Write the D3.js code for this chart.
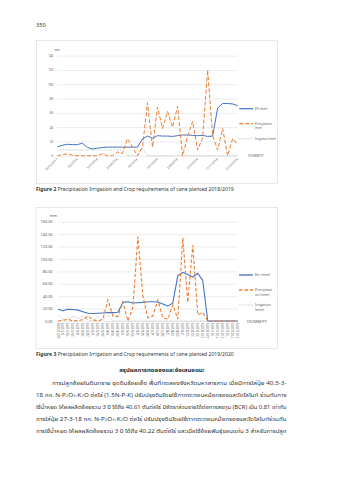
<!DOCTYPE html>
<html><head><meta charset="utf-8">
<script src="https://cdn.jsdelivr.net/npm/d3@7"></script>
<style>
html,body{margin:0;padding:0;background:#fff;}
svg{display:block;}
text{font-family:"Noto Sans","Liberation Sans","DejaVu Sans",sans-serif;}
.thai{font-family:"Noto Sans Thai","Loma","Garuda","Norasi","DejaVu Sans","Noto Sans",sans-serif;}
</style></head><body>
<svg id="page" width="339" height="480"></svg>
<script>
// ---------- Figure 2 (2018/2019) ----------
const fig2TickLabels = ["26/12/2017","4/2/2018","16/3/2018","25/4/2018","4/6/2018","14/7/2018","23/8/2018","2/10/2018","11/11/2018","21/12/2018"];
const fig2Etc = [12.5,14.5,16,15.5,15.5,17.5,11.5,9.5,10.5,11.5,12,12,12,12,12,12,12,23.5,27.5,24.5,28,27.5,27.5,27,28,29,29,28.5,28,28.5,27,27.5,67,73,73,72.5,70];
const fig2Prec = [0,1.5,2.5,1,0,0,0,0,0,2.5,0,0,5,3,24,12,0,12,74,12,68,38,62,40,69,0,27,48,8,25,120,28,8,38,0,24,15];
const fig2Irr = [8,8,8,8,8,8,8,8,8,8,8,8,8,8,0,0,0,11,0,0,0,0,0,0,0,0,0,0,0,0,0,0,0,0,0,0,0];
const fig2YTicks = [0,20,40,60,80,100,120,140];
const fig2Legend = [["ETc (mm)"],["Precipitation","(mm)"],["Irrigation (mm)"]];

// ---------- Figure 3 (2019/2020) ----------
const fig3Dates = ["26/12/2018","5/1/2019","15/1/2019","25/1/2019","4/2/2019","14/2/2019","24/2/2019","6/3/2019","16/3/2019","26/3/2019","5/4/2019","15/4/2019","25/4/2019","5/5/2019","15/5/2019","25/5/2019","4/6/2019","14/6/2019","24/6/2019","4/7/2019","14/7/2019","24/7/2019","3/8/2019","13/8/2019","23/8/2019","2/9/2019","12/9/2019","22/9/2019","2/10/2019","12/10/2019","22/10/2019","1/11/2019","11/11/2019","21/11/2019","1/12/2019","11/12/2019","21/12/2019"];
const fig3Etc = [19,16.5,19,18.5,17.5,15,12.5,12,12.5,13,13.5,13.5,14,30,31,29,29.5,30,31,31,30.5,27.5,24,29,73,78,75,71,77,65,0,0,0,0,0,0,0];
const fig3Prec = [0,1,3,0,1,2,8,2,0,3,34,8,7,31,0,22,136,40,5,8,34,5,3,26,3,134,30,122,10,14,0,0,0,0,0,0,0];
const fig3Irr = [10,2,3,8,4,8,2,0,7,1,10,0,0,0,0,0,0,0,0,0,0,0,0,0,0,0,0,0,0,0,0,0,0,0,0,0,0];
const fig3YTicks = [0,20,40,60,80,100,120,140,160];
const fig3Legend = [["Etc (mm)"],["Precipitati","on (mm)"],["Irrigation","(mm)"]];

// ---------- Page text ----------
const pageNumber = "350";
const caption2 = ["Figure 2", " Precipitation Irrigation and Crop requirements of cane planted 2018/2019"];
const caption3 = ["Figure 3", " Precipitation Irrigation and Crop requirements of cane planted 2019/2020"];
const heading = "สรุปผลการทดลองและข้อเสนอแนะ";
const bodyLines = [
  "การปลูกอ้อยในดินทราย ชุดดินร้อยเอ็ด พื้นที่ทดลองจังหวัดมหาสารคาม  เมื่อมีการใส่ปุ๋ย 40.5-3-",
  "18  กก. N-P₂O₅-K₂O ต่อไร่ (1.5N-P-K) ปรับปรุงดินโดยใช้กากตะกอนหม้อกรองและโดโลไมท์  ร่วมกับการ",
  "ใช้น้ำหยด ให้ผลผลิตอ้อยรวม 3 ปี ได้ถึง 40.61 ตันต่อไร่ มีอัตราส่วนรายได้ต่อการลงทุน (BCR) เป็น 0.81 เท่ากับ",
  "การใส่ปุ๋ย 27-3-18  กก. N-P₂O₅-K₂O ต่อไร่ ปรับปรุงดินโดยใช้กากตะกอนหม้อกรองและโดโลไมท์ร่วมกับ",
  "การใช้น้ำหยด ให้ผลผลิตอ้อยรวม 3 ปี ได้ถึง 40.22 ตันต่อไร่ และเมื่อใช้อ้อยพันธุ์ขอนแก่น 3  สำหรับการปลูก"
];

const COL = {etc:"#4472C4", prec:"#ED7D31", irr:"#A5A5A5", grid:"#D9D9D9", txt:"#595959"};
const svg = d3.select("#page");

svg.append("text").attr("x",36).attr("y",27).attr("font-size",5.6).attr("fill","#333").text(pageNumber);

function drawChart(c){
  const g = svg.append("g");
  g.append("rect").attr("x",c.frame[0]).attr("y",c.frame[1]).attr("width",c.frame[2]).attr("height",c.frame[3])
    .attr("fill","#fff").attr("stroke","#D9D9D9").attr("stroke-width",0.6);
  const n = c.etc.length;
  const x = d3.scaleLinear().domain([0,n-1]).range([c.x0,c.x1]);
  const y = d3.scaleLinear().domain([0,c.yMax]).range([c.yB,c.yT]);
  const ya = g.append("g").attr("transform",`translate(${c.x0},0)`)
    .call(d3.axisLeft(y).tickValues(c.yTicks).tickSize(-(c.x1-c.x0)).tickPadding(c.yPad).tickFormat(c.fmt));
  ya.select(".domain").remove();
  ya.selectAll("line").attr("stroke",COL.grid).attr("stroke-width",0.5);
  ya.selectAll("text").attr("fill",COL.txt).attr("font-size",c.yFs).attr("font-family",null);
  g.append("text").attr("x",c.mm[0]).attr("y",c.mm[1]).attr("font-size",c.mmFs).attr("fill",COL.txt).text("mm");

  const xa = g.append("g").attr("transform",`translate(0,${c.yB})`)
    .call(d3.axisBottom(x).tickValues(c.xTickIdx).tickSize(0).tickFormat((d,i)=>c.xTickLabels[i]));
  xa.select(".domain").remove();
  xa.selectAll("text").attr("fill",COL.txt).attr("font-size",c.xFs).attr("font-family",null)
    .attr("text-anchor","end").attr("dy",null).attr("y",null)
    .attr("transform",c.xRot);

  const line = d3.line().x((d,i)=>x(i)).y(d=>y(d));
  g.append("path").datum(c.irr).attr("d",line).attr("fill","none").attr("stroke",COL.irr)
    .attr("stroke-width",c.irrW).attr("stroke-dasharray",c.irrDash);
  g.append("path").datum(c.etc).attr("d",line).attr("fill","none").attr("stroke",COL.etc)
    .attr("stroke-width",c.etcW).attr("stroke-linejoin","round");
  g.append("path").datum(c.prec).attr("d",line).attr("fill","none").attr("stroke",COL.prec)
    .attr("stroke-width",c.precW).attr("stroke-dasharray",c.precDash);

  const styles = [[COL.etc,c.etcW+0.2,null],[COL.prec,c.precW+0.2,c.precDash],[COL.irr,c.irrW,c.irrDash]];
  c.legend.forEach((lab,i)=>{
    const ly = c.legY[i];
    g.append("line").attr("x1",c.legX[0]).attr("x2",c.legX[1]).attr("y1",ly).attr("y2",ly)
      .attr("stroke",styles[i][0]).attr("stroke-width",styles[i][1]).attr("stroke-dasharray",styles[i][2]);
    lab.forEach((t,j)=>{
      g.append("text").attr("x",c.legX[2]).attr("y",ly+c.legFs*0.35+j*c.legFs*1.45)
        .attr("font-size",c.legFs).attr("fill",COL.txt).text(t);
    });
  });
  g.append("text").attr("x",c.dd[0]).attr("y",c.dd[1]).attr("font-size",c.ddFs).attr("fill",COL.txt).text("DD/MM/YY");
}

drawChart({
  frame:[36.3,40.7,241.4,142.6], x0:57.3, x1:237.7, yB:155.7, yT:55.7, yMax:140,
  yTicks:fig2YTicks, fmt:d3.format("d"), yFs:3, yPad:4, mm:[54.5,50.5], mmFs:2.8,
  xTickIdx:fig2TickLabels.map((d,i)=>i*4), xTickLabels:fig2TickLabels, xFs:3,
  xRot:"translate(0,3.5) rotate(-45)",
  etc:fig2Etc, prec:fig2Prec, irr:fig2Irr, etcW:1, precW:1, irrW:0.7,
  precDash:"4,2", irrDash:"0.7,0.8",
  legend:fig2Legend, legY:[108.7,123.7,138.7], legX:[239.3,253.3,255], legFs:2.9,
  dd:[248,157], ddFs:3
});

drawChart({
  frame:[36,207.3,241.7,141], x0:58, x1:237.7, yB:321, yT:221.7, yMax:160,
  yTicks:fig3YTicks, fmt:d3.format(".2f"), yFs:3.8, yPad:5.5, mm:[49.5,216.5], mmFs:4,
  xTickIdx:fig3Dates.map((d,i)=>i), xTickLabels:fig3Dates, xFs:2.9,
  xRot:"translate(1,2) rotate(-90)",
  etc:fig3Etc, prec:fig3Prec, irr:fig3Irr, etcW:1.1, precW:1.1, irrW:0.7,
  precDash:"3.5,2", irrDash:"0.7,0.8",
  legend:fig3Legend, legY:[275,290,305], legX:[239,253,255], legFs:3.6,
  dd:[247,323], ddFs:3.8
});

function caption(parts,yv){
  const t = svg.append("text").attr("x",36).attr("y",yv).attr("font-size",5.1).attr("fill","#333");
  t.append("tspan").attr("font-weight","bold").text(parts[0]);
  t.append("tspan").text(parts[1]);
}
caption(caption2,190.8);
caption(caption3,355.5);

svg.append("text").attr("class","thai").attr("x",162).attr("y",372).attr("text-anchor","middle")
  .attr("font-size",6).attr("font-weight","bold").attr("fill","#222").text(heading);
const lineY = [384.5,396.5,408.5,420.5,432.5];
bodyLines.forEach((t,i)=>{
  const x0 = i===0 ? 52 : 36;
  svg.append("text").attr("class","thai").attr("x",x0).attr("y",lineY[i])
    .attr("font-size",5.6).attr("fill","#333")
    .attr("textLength",286.5-x0).attr("lengthAdjust","spacingAndGlyphs").text(t);
});
</script>
</body></html>
